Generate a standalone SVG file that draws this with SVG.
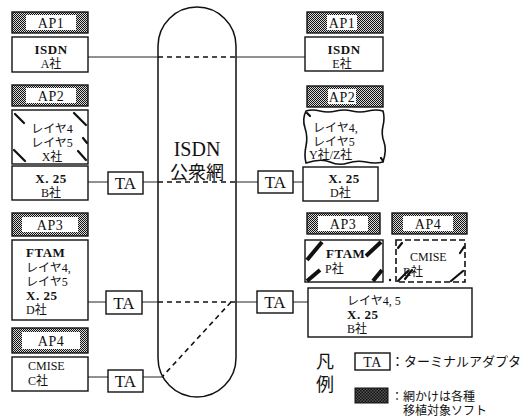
<svg xmlns="http://www.w3.org/2000/svg" width="528" height="418" viewBox="0 0 528 418">
<defs>
<pattern id="shade" width="2" height="2" patternUnits="userSpaceOnUse">
<rect width="2" height="2" fill="#d8d8d8"/>
<rect x="0" y="0" width="1" height="1" fill="#111"/>
<rect x="1" y="1" width="1" height="1" fill="#111"/>
</pattern>
<pattern id="dense" width="3" height="3" patternUnits="userSpaceOnUse">
<rect width="3" height="3" fill="#555"/>
<rect x="0" y="0" width="1.5" height="1.5" fill="#111"/>
<rect x="1.5" y="1.5" width="1.5" height="1.5" fill="#111"/>
</pattern>
</defs>
<style>
.box{fill:#fff;stroke:#111;stroke-width:1.4}
.lab{fill:url(#shade);stroke:#111;stroke-width:1.4}
.in{fill:#fff;stroke:none}
.ln{stroke:#222;stroke-width:1;fill:none}
.dash{stroke:#111;stroke-width:1.6;stroke-dasharray:5 4;fill:none}
.hs{stroke:#111;stroke-width:2.2;stroke-linecap:round}
.hb{stroke:#111;stroke-width:4;stroke-linecap:butt}
.t{font-family:"Liberation Serif","Noto Sans CJK JP",serif;font-size:12px;fill:#111}
.c{text-anchor:middle}
.b{font-weight:bold;letter-spacing:0.5px;font-size:13px}
.ap{font-family:"Liberation Serif",serif;font-size:14px;fill:#111;text-anchor:middle;letter-spacing:0.5px}
.ta{font-family:"Liberation Serif",serif;font-size:17px;fill:#111;text-anchor:middle}
.j{font-family:"Noto Sans CJK JP",sans-serif;fill:#111}
</style>

<g id="network">
<rect x="158" y="7" width="78" height="390" rx="39" ry="39" fill="#fff" stroke="#111" stroke-width="1.5"/>
<text class="t c" x="197" y="156" style="font-size:20px">ISDN</text>
<text class="j" x="197" y="179" text-anchor="middle" font-size="18">公衆網</text>
</g>

<g id="connectors">
<line class="ln" x1="88" y1="57" x2="158" y2="57"/>
<line class="ln" x1="236" y1="57" x2="305" y2="57"/>
<line class="dash" x1="158" y1="57" x2="236" y2="57"/>
<line class="ln" x1="88" y1="182" x2="108" y2="182"/>
<line class="ln" x1="143" y1="182" x2="158" y2="182"/>
<line class="dash" x1="158" y1="182" x2="236" y2="182"/>
<line class="ln" x1="236" y1="182" x2="258" y2="182"/>
<line class="ln" x1="293" y1="182" x2="303" y2="182"/>
<line class="ln" x1="88" y1="302" x2="106" y2="302"/>
<line class="ln" x1="142" y1="302" x2="158" y2="302"/>
<line class="dash" x1="158" y1="302" x2="236" y2="302"/>
<line class="ln" x1="236" y1="302" x2="257" y2="302"/>
<line class="ln" x1="293" y1="302" x2="308" y2="302"/>
<line class="dash" x1="231" y1="302" x2="162" y2="377"/>
<line class="ln" x1="88" y1="377" x2="108" y2="377"/>
<line class="ln" x1="143" y1="377" x2="163" y2="377"/>
</g>

<g id="left-ap1">
<rect class="lab" x="12" y="12" width="76" height="21"/>
<rect class="in" x="26" y="15" width="50" height="15"/>
<text class="ap" x="51" y="28">AP1</text>
</g>
<g id="left-isdn-a">
<rect class="box" x="12" y="37" width="76" height="35"/>
<text class="t c b" x="51" y="54">ISDN</text>
<text class="t c" x="51" y="68">A社</text>
</g>

<g id="left-ap2">
<rect class="lab" x="12" y="85" width="76" height="21"/>
<rect class="in" x="26" y="88" width="50" height="15"/>
<text class="ap" x="51" y="101">AP2</text>
</g>
<g id="left-layer-x">
<rect class="box" x="12" y="110" width="76" height="54"/>
<line class="hs" x1="15" y1="114" x2="24" y2="123"/>
<line class="hs" x1="74" y1="113" x2="86" y2="125"/>
<line class="hs" x1="83" y1="138" x2="87" y2="143"/>
<line class="hs" x1="14" y1="150" x2="25" y2="161"/>
<line class="hs" x1="78" y1="151" x2="86" y2="160"/>
<text class="t c" x="52" y="133">レイヤ4</text>
<text class="t c" x="52" y="147">レイヤ5</text>
<text class="t c" x="52" y="161">X社</text>
</g>
<g id="left-x25-b">
<rect class="box" x="12" y="166" width="76" height="34"/>
<text class="t c b" x="51" y="183">X. 25</text>
<text class="t c" x="51" y="197">B社</text>
</g>
<g id="ta1-left">
<rect class="box" x="108" y="172" width="35" height="22"/>
<text class="ta" x="125.5" y="189">TA</text>
</g>

<g id="left-ap3">
<rect class="lab" x="12" y="213" width="76" height="23"/>
<rect class="in" x="22" y="217" width="56" height="15"/>
<text class="ap" x="50" y="230">AP3</text>
</g>
<g id="left-ftam-d">
<rect class="box" x="12" y="240" width="76" height="80"/>
<text class="t b" x="26" y="257">FTAM</text>
<text class="t" x="26" y="272">レイヤ4,</text>
<text class="t" x="26" y="286">レイヤ5</text>
<text class="t b" x="26" y="300">X. 25</text>
<text class="t" x="26" y="314">D社</text>
</g>
<g id="ta2-left">
<rect class="box" x="106" y="291" width="36" height="23"/>
<text class="ta" x="124" y="309">TA</text>
</g>

<g id="left-ap4">
<rect class="lab" x="12" y="328" width="76" height="25"/>
<rect class="in" x="22" y="332" width="58" height="17"/>
<text class="ap" x="51" y="346">AP4</text>
</g>
<g id="left-cmise-c">
<rect class="box" x="12" y="357" width="76" height="34"/>
<text class="t" x="28" y="370">CMISE</text>
<text class="t" x="28" y="385">C社</text>
</g>
<g id="ta3-left">
<rect class="box" x="108" y="370" width="35" height="22"/>
<text class="ta" x="125.5" y="387">TA</text>
</g>

<g id="right-ap1">
<rect class="lab" x="307" y="12" width="76" height="21"/>
<rect class="in" x="327" y="15" width="30" height="15"/>
<text class="ap" x="342" y="28">AP1</text>
</g>
<g id="right-isdn-e">
<rect class="box" x="305" y="37" width="78" height="34"/>
<text class="t c b" x="344" y="54">ISDN</text>
<text class="t c" x="342" y="68">E社</text>
</g>

<g id="right-ap2">
<rect class="lab" x="307" y="86" width="76" height="21"/>
<rect class="in" x="328" y="89" width="28" height="15"/>
<text class="ap" x="342" y="102">AP2</text>
</g>
<g id="right-layer-yz">
<path d="M306,111 Q312,109 320,111 T336,111 T352,111 T368,111 T383,111 Q385,118 383,126 T384,142 T383,162 Q375,164 366,162 T348,163 T330,162 T306,163 Q304,155 306,146 T305,128 T306,111 Z" fill="#fff" stroke="#111" stroke-width="1.6"/>
<line class="hs" x1="307" y1="113" x2="310" y2="116"/>
<line class="hs" x1="381" y1="158" x2="383" y2="161"/>
<text class="t" x="313" y="132">レイヤ4,</text>
<text class="t" x="313" y="146">レイヤ5</text>
<text class="t" x="309" y="159">Y社/Z社</text>
</g>
<g id="ta1-right">
<rect class="box" x="258" y="171" width="35" height="22"/>
<text class="ta" x="275.5" y="188">TA</text>
</g>
<g id="right-x25-d">
<rect class="box" x="303" y="167" width="75" height="34"/>
<text class="t c b" x="344" y="183">X. 25</text>
<text class="t" x="330" y="197">D社</text>
</g>

<g id="right-ap3">
<rect class="lab" x="307" y="213" width="73" height="21"/>
<rect class="in" x="318" y="216" width="50" height="15"/>
<text class="ap" x="343" y="229">AP3</text>
</g>
<g id="right-ap4">
<rect class="lab" x="392" y="213" width="75" height="21"/>
<rect class="in" x="403" y="216" width="50" height="15"/>
<text class="ap" x="428" y="229">AP4</text>
</g>
<g id="right-ftam-p">
<rect class="box" x="305" y="240" width="78" height="42"/>
<line class="hb" x1="307" y1="260" x2="322" y2="242"/>
<line class="hb" x1="366" y1="256" x2="381" y2="242"/>
<line class="hb" x1="307" y1="281" x2="320" y2="270"/>
<line class="hb" x1="373" y1="281" x2="382" y2="270"/>
<circle cx="390" cy="280" r="1.2" fill="#111"/>
<text class="t b" x="326" y="258">FTAM</text>
<text class="t" x="325" y="273">P社</text>
</g>
<g id="right-cmise-r">
<rect x="396" y="240" width="69" height="42" fill="#fff" stroke="#111" stroke-width="1.6" stroke-dasharray="6 3"/>
<line class="hs" x1="398" y1="248" x2="402" y2="243"/>
<line class="hs" x1="398" y1="281" x2="408" y2="271"/>
<line class="hs" x1="405" y1="279" x2="412" y2="270"/>
<line class="hs" x1="451" y1="281" x2="463" y2="271"/>
<line class="hs" x1="460" y1="253" x2="464" y2="247"/>
<text class="t" x="410" y="261">CMISE</text>
<text class="t" x="403" y="276">R社</text>
</g>
<g id="ta2-right">
<rect class="box" x="257" y="291" width="36" height="22"/>
<text class="ta" x="275" y="308">TA</text>
</g>
<g id="right-layer-x25-b">
<rect class="box" x="308" y="288" width="164" height="49"/>
<text class="t" x="347" y="305">レイヤ4, 5</text>
<text class="t b" x="347" y="319">X. 25</text>
<text class="t" x="347" y="333">B社</text>
</g>

<g id="legend">
<text class="t" x="316" y="368" style="font-size:18px">凡</text>
<text class="t" x="316" y="391" style="font-size:18px">例</text>
<rect class="box" x="355" y="353" width="35" height="17"/>
<text class="ap" x="372.5" y="367" style="font-size:14px">TA</text>
<text class="t" x="391" y="366" style="font-size:13px">：ターミナルアダプタ</text>
<rect x="355" y="388" width="33" height="15" fill="url(#dense)" stroke="#111" stroke-width="1"/>
<text class="t" x="391" y="401">：網かけは各種</text>
<text class="t" x="403" y="415">移植対象ソフト</text>
</g>
</svg>
